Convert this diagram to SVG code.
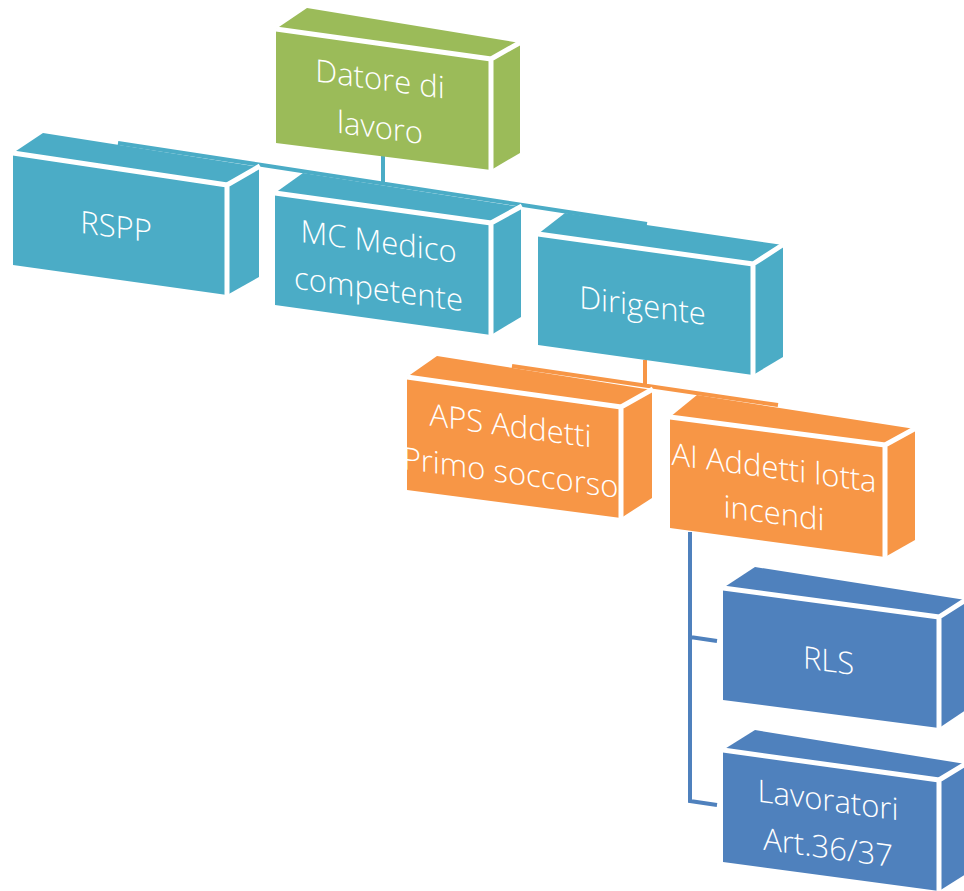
<svg xmlns="http://www.w3.org/2000/svg" width="964" height="891" viewBox="0 0 964 891">
<style>
.g{fill:#9bbb59}.t{fill:#4bacc6}.o{fill:#f79646}.b{fill:#4f81bd}
.edge{fill:none;stroke:#fff;stroke-width:5;stroke-linejoin:miter}
.lbl{fill:#fff;font-family:"Open Sans","Noto Sans","DejaVu Sans",sans-serif;font-size:31px;font-weight:300;text-anchor:middle}
.con{fill:none;stroke-width:4;stroke-linecap:butt}
</style>
<rect width="964" height="891" fill="#fff"/>
<g id="connectors">
<path class="con" stroke="#4bacc6" d="M383,150 L383,185 M118,143 L647,224"/>
<path class="con" stroke="#f79646" d="M645,360 L645,387 M512,366 L778,405"/>
<path class="con" stroke="#4f81bd" d="M690,532 L690,801 L717,805 M690,637 L717,641"/>
</g>
<g id="datore" class="g">
<polygon points="276,29 491,59 491,170 276,143"/>
<polygon points="276,29 307,8 520,43 491,59"/>
<polygon points="491,59 520,43 520,153 491,170"/>
<path class="edge" d="M276,29 L491,59 L491,172 M491,59 L521,42"/>
<text class="lbl" transform="translate(380,90) skewY(7.7)"><tspan x="0" y="0">Datore di</tspan><tspan x="0" y="48.5">lavoro</tspan></text>
</g>
<g id="rspp" class="t">
<polygon points="13,153 227,185 227,295 13,265"/>
<polygon points="13,153 43,133 259,167 227,185"/>
<polygon points="227,185 259,167 259,277 227,295"/>
<path class="edge" d="M13,153 L227,185 L227,297 M227,185 L260,166"/>
<text class="lbl" transform="translate(116,237.5) skewY(7.7)" x="0" y="0">RSPP</text>
</g>
<g id="mc" class="t">
<polygon points="275,193 491,223 491,335 275,305"/>
<polygon points="275,193 303,173 521,207 491,223"/>
<polygon points="491,223 521,207 521,317 491,335"/>
<path class="edge" d="M275,193 L491,223 L491,337 M491,223 L522,206"/>
<text class="lbl" transform="translate(378.5,252.5) skewY(7.7)"><tspan x="0" y="0">MC Medico</tspan><tspan x="0" y="47.5">competente</tspan></text>
</g>
<g id="dirigente" class="t">
<polygon points="538,234 753,264 753,375 538,345"/>
<polygon points="538,234 565,213 783,245 753,264"/>
<polygon points="753,264 783,245 783,357 753,375"/>
<path class="edge" d="M538,234 L753,264 L753,377 M753,264 L784,244"/>
<text class="lbl" transform="translate(642.5,316.5) skewY(7.7)" x="0" y="0">Dirigente</text>
</g>
<g id="aps" class="o">
<polygon points="407,377 621,407 621,518 407,490"/>
<polygon points="407,377 437,356 652,390 621,407"/>
<polygon points="621,407 652,390 652,498 621,518"/>
<path class="edge" d="M407,377 L621,407 L621,520 M621,407 L653,389"/>
<text class="lbl" transform="translate(510.5,436.5) skewY(7.7)"><tspan x="0" y="0">APS Addetti</tspan><tspan x="0" y="47">Primo soccorso</tspan></text>
</g>
<g id="ai" class="o">
<polygon points="670,417 885,445 885,557 670,528"/>
<polygon points="670,417 697,395 915,429 885,445"/>
<polygon points="885,445 915,429 915,540 885,557"/>
<path class="edge" d="M670,417 L885,445 L885,559 M885,445 L916,428"/>
<text class="lbl" transform="translate(774,478.5) skewY(7.7)"><tspan x="0" y="0">AI Addetti lotta</tspan><tspan x="0" y="45.5">incendi</tspan></text>
</g>
<g id="rls" class="b">
<polygon points="723,588 939,617 939,728 723,700"/>
<polygon points="723,588 755,567 966,600 939,617"/>
<polygon points="939,617 966,600 966,710 939,728"/>
<path class="edge" d="M723,588 L939,617 L939,730 M939,617 L967,599"/>
<text class="lbl" transform="translate(828.5,671.5) skewY(7.7)" x="0" y="0">RLS</text>
</g>
<g id="lavoratori" class="b">
<polygon points="723,750 939,780 939,891 723,862"/>
<polygon points="723,750 755,730 966,764 939,780"/>
<polygon points="939,780 966,764 966,874 939,891"/>
<path class="edge" d="M723,750 L939,780 L939,893 M939,780 L967,763"/>
<text class="lbl" transform="translate(828,811) skewY(7.7)"><tspan x="0" y="0">Lavoratori</tspan><tspan x="0" y="47.5">Art.36/37</tspan></text>
</g>
</svg>
